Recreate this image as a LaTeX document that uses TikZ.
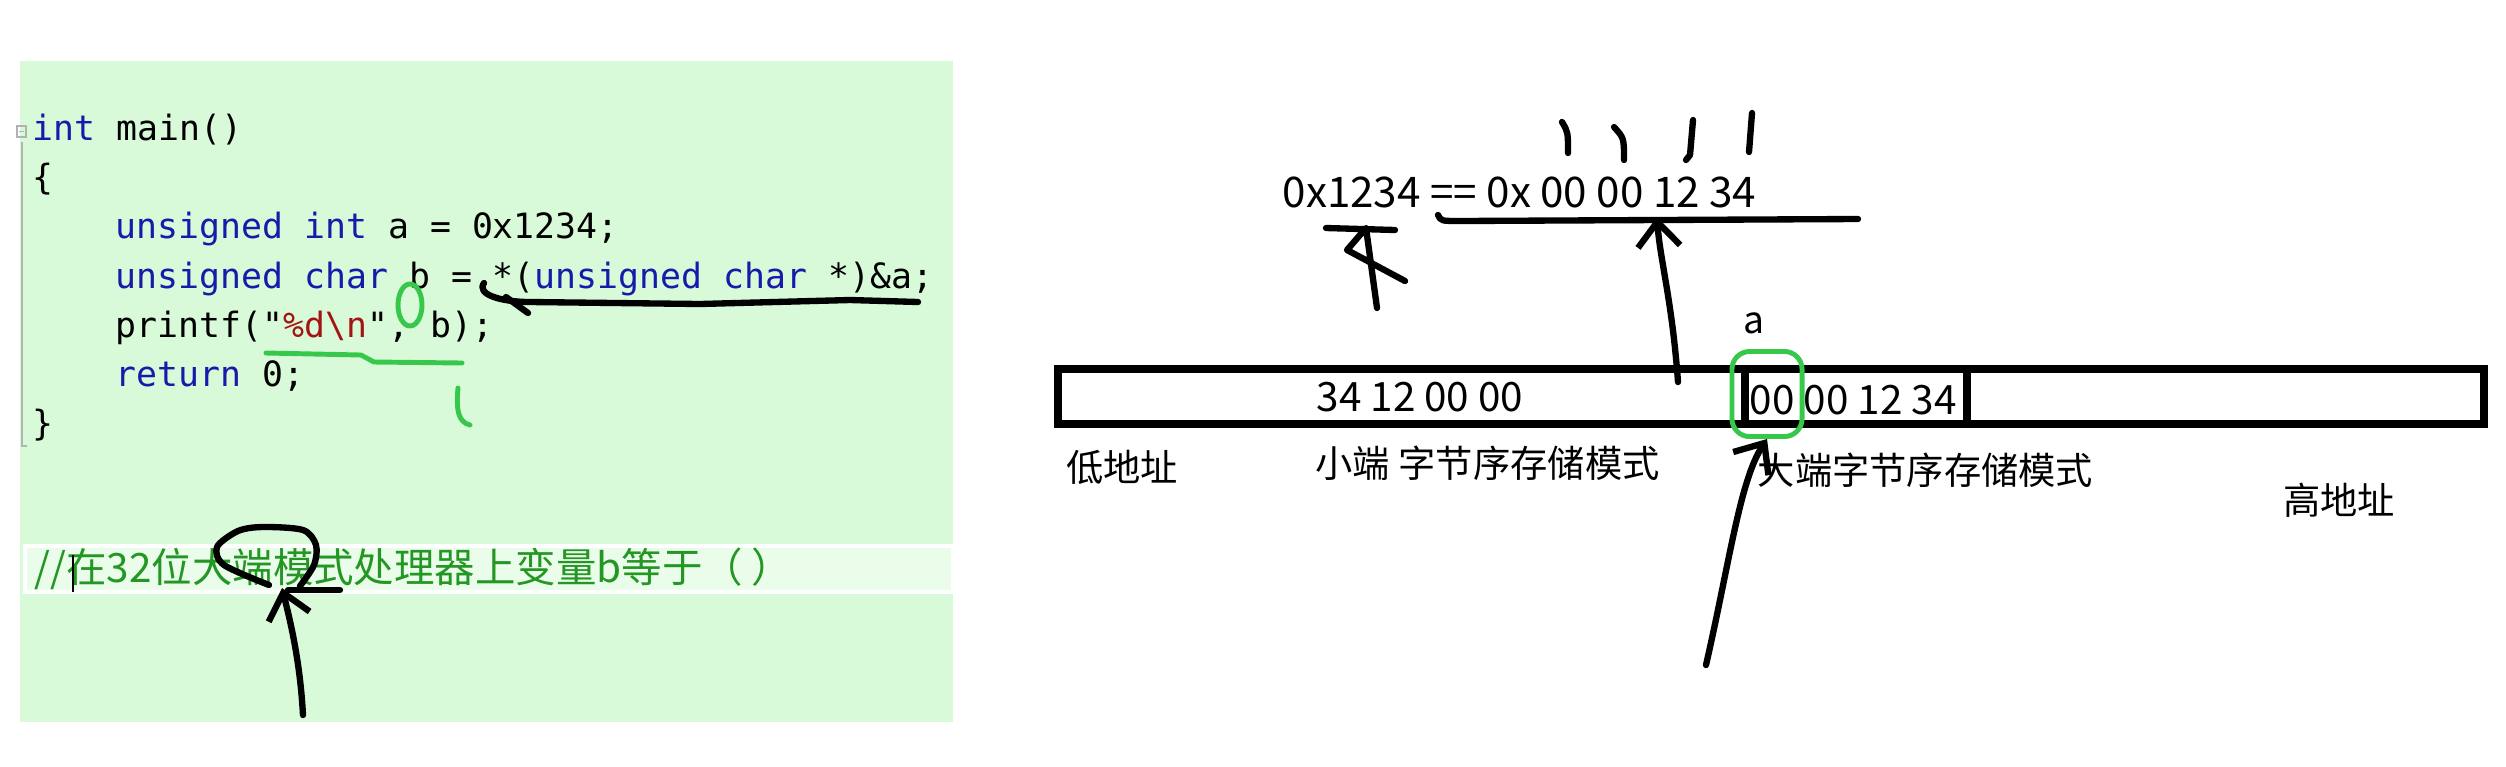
\documentclass[tikz,border=0pt]{standalone}
\usepackage{fontspec}
\setmainfont{Noto Sans CJK SC}
\newfontfamily\codefont{DejaVu Sans Mono}
\newfontfamily\cjk{Noto Sans CJK SC}
\usetikzlibrary{arrows.meta}

\definecolor{panelgreen}{RGB}{216,250,216}
\definecolor{kwblue}{RGB}{25,25,170}
\definecolor{strred}{RGB}{163,21,21}
\definecolor{cmtgreen}{RGB}{35,150,35}
\definecolor{markgreen}{RGB}{55,200,75}
\newcommand{\kwd}[1]{\textcolor{kwblue}{#1}}

\tikzset{
  codeline/.style={anchor=base west, inner sep=0pt, font=\codefont\fontsize{9.9}{12}\selectfont},
  memtxt/.style={inner sep=0pt, font=\cjk\fontsize{11.5}{13}\selectfont},
  addr/.style={inner sep=0pt, font=\cjk\fontsize{10.6}{13}\selectfont},
  hand/.style={line width=1.8pt, line cap=round, line join=round},
  ghand/.style={hand, markgreen, line width=1.4pt},
  handarrow/.style={hand, -{Straight Barb[length=7pt, width=12pt]}},
}

\begin{document}
\begin{tikzpicture}[x=0.01cm, y=-0.01cm]
  \useasboundingbox (0,0) rectangle (2506,766);

  % 左边：代码窗口
  \fill[panelgreen] (20,61) rectangle (953,722);
  \fill[white!45!panelgreen] (25,546) rectangle (953,592);
  \draw[white, line width=1pt] (25,546) rectangle (953,592);
  \draw[gray!60, line width=0.6pt] (22,142) -- (22,446) -- (27,446);
  \draw[gray!60, line width=0.5pt] (17,126) rectangle (26,137);
  \draw[gray!60, line width=0.5pt] (19,131.5) -- (24,131.5);

  \node[codeline] (l1) at (32,140) {\kwd{int} main()};
  \node[codeline] (l2) at (32,189) {\{};
  \node[codeline] (l3) at (115,238) {\kwd{unsigned} \kwd{int} a = 0x1234;};
  \node[codeline] (l4) at (115,288) {\kwd{unsigned} \kwd{char} b = *(\kwd{unsigned} \kwd{char} *)\&a;};
  \node[codeline] (l5) at (115,337) {printf("\textcolor{strred}{\%d\textbackslash n}", b);};
  \node[codeline] (l6) at (115,386) {\kwd{return} 0;};
  \node[codeline] (l7) at (32,435) {\}};

  \node[anchor=west, inner sep=0pt, text=cmtgreen, font=\cjk\fontsize{11.5}{13}\selectfont]
    (cmt) at (34,569) {//在32位大端模式处理器上变量b等于（ ）};
  \draw[line width=0.5pt] (73,555) -- (73,592);

  % 手写的记号
  \draw[hand] (484,283) .. controls (476,294) and (500,302) .. (530,302)
    -- (700,304) -- (850,300) -- (918,302);
  \draw[hand] (506,297) -- (528,313);
  \draw[ghand] (410,305) ellipse (12 and 21);
  \draw[ghand] (266,353) -- (361,355) -- (374,362) -- (462,363);
  \draw[ghand] (458,388) .. controls (456,410) and (458,422) .. (470,425);

  \draw[hand] plot[smooth] coordinates {(269,585) (224,565) (217,547) (238,531)
    (263,527) (303,530) (316,545) (314,565) (300,586)};
  \draw[hand] (288,590) -- (340,590);
  \coordinate (c0) at (303,715);
  \coordinate (c1) at (282,588);
  \draw[handarrow] (c0) .. controls (300,660) and (290,620) .. (c1);

  % 右边：内存
  \node[memtxt, anchor=west, font=\cjk\fontsize{12}{14}\selectfont] (eqn) at (1282,192) {0x1234 == 0x 00 00 12 34};
  \draw[hand] (1562,122) .. controls (1568,132) .. (1568,153);
  \draw[hand] (1614,127) .. controls (1624,138) .. (1624,160);
  \draw[hand] (1693,120) -- (1690,155) -- (1686,160);
  \draw[hand] (1752,113) -- (1749,152);
  \draw[hand] (1438,215) .. controls (1441,221) .. (1460,221) -- (1858,219);

  \draw[hand] (1326,228) -- (1395,230);
  \draw[hand] (1377,308) -- (1366,228) -- (1347,250) -- (1405,281);

  \coordinate (memL) at (1058,369);
  \coordinate (memR) at (2484,424);
  \draw[line width=2.3pt] (memL) rectangle (memR);
  \draw[line width=2.1pt] (1745,369) rectangle (1967,424);
  \node[memtxt] (le) at (1420,397) {34 12 00 00};
  \node[memtxt, anchor=west] (be) at (1749,400) {00 00 12 34};
  \node[draw=markgreen, line width=1.4pt, rounded corners=5pt,
    minimum width=0.7cm, minimum height=0.85cm, inner sep=0pt] (grn) at (1767,394) {};
  \node[addr] (a) at (1754,323) {a};

  \node[addr] (lo) at (1122,467) {低地址};
  \node[addr, anchor=west] (lit) at (1315,463) {小端 字节序存储模式};
  \node[addr, anchor=west] (big) at (1757,470) {大端字节序存储模式};
  \node[addr] (hi) at (2339,500) {高地址};

  \coordinate (up0) at (1678,382);
  \coordinate (up1) at (1657,217);
  \draw[handarrow] (up0) .. controls (1672,300) and (1660,260) .. (up1);
  \coordinate (bt0) at (1706,665);
  \draw[handarrow] (bt0) .. controls (1730,560) and (1740,480) .. (grn.south);
\end{tikzpicture}
\end{document}
